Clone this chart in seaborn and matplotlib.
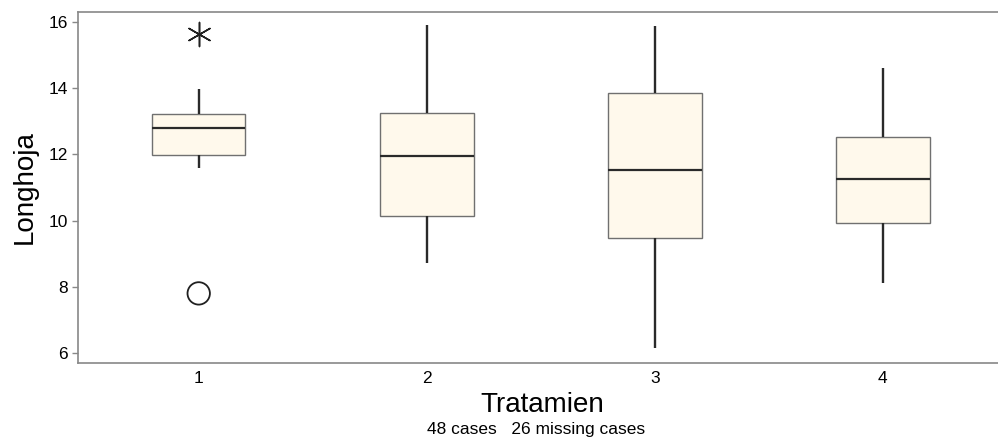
import numpy as np
import pandas as pd
import matplotlib
matplotlib.use('Agg')
import matplotlib.pyplot as plt
import seaborn as sns

# five-number summaries (whisker low, Q1, median, Q3, whisker high)
groups = ['1', '2', '3', '4']
g1 = [11.58, 11.98, 12.79, 13.21, 13.97]
g2 = [8.71, 10.13, 11.96, 13.24, 15.89]
g3 = [6.14, 9.47, 11.53, 13.85, 15.88]
g4 = [8.11, 9.93, 11.25, 12.52, 14.62]

# outliers of group 1
star_group, star_val = ['1'], [15.64]
circle_group, circle_val = ['1'], [7.80]

df = pd.DataFrame({
    'Tratamien': np.repeat(groups, 5),
    'Longhoja': g1 + g2 + g3 + g4,
})

sns.set_style('white')
plt.rcParams['font.family'] = ['Liberation Sans', 'DejaVu Sans']
plt.rcParams['text.color'] = 'black'
plt.rcParams['axes.labelcolor'] = 'black'
plt.rcParams['xtick.color'] = 'black'
plt.rcParams['ytick.color'] = 'black'

fig = plt.figure(figsize=(9.98, 4.41), dpi=100)
ax = fig.add_axes([0.078, 0.177, 0.93, 0.796])

sns.boxplot(data=df, x='Tratamien', y='Longhoja', order=groups, ax=ax,
            whis=(0, 100), showfliers=False, showcaps=False, width=0.41,
            boxprops=dict(facecolor='#fff9ec', edgecolor='#707070', linewidth=1.0),
            whiskerprops=dict(color='#2a2a2a', linewidth=1.7),
            medianprops=dict(color='#2a2a2a', linewidth=1.6))

ax.scatter([groups.index(g) for g in star_group], star_val, marker=(6, 2, 0),
           s=300, color='#202020', linewidths=1.1, zorder=5)
ax.scatter([groups.index(g) for g in circle_group], circle_val, marker='o',
           s=260, facecolors='none', edgecolors='#202020', linewidths=1.3, zorder=5)

ax.set_xlim(-0.53, 3.54)
ax.set_ylim(5.70, 16.30)
ax.set_yticks([6, 8, 10, 12, 14, 16])

for s in ax.spines.values():
    s.set_color('#888888')
    s.set_linewidth(1.2)
ax.spines['right'].set_visible(False)
ax.tick_params(axis='y', left=True, length=4, width=1, color='#888888',
               labelcolor='black', labelsize=12.5, pad=3)
ax.tick_params(axis='x', bottom=False, length=0, labelcolor='black', labelsize=12.5, pad=6)

ax.set_ylabel('Longhoja', fontsize=20, labelpad=8, color='black')
ax.set_xlabel('Tratamien', fontsize=20, labelpad=4, color='black')

fig.text(0.537, 0.01, '48 cases   26 missing cases', ha='center', va='bottom',
         fontsize=12.5, color='black')

fig.savefig('out.png', dpi=100)
